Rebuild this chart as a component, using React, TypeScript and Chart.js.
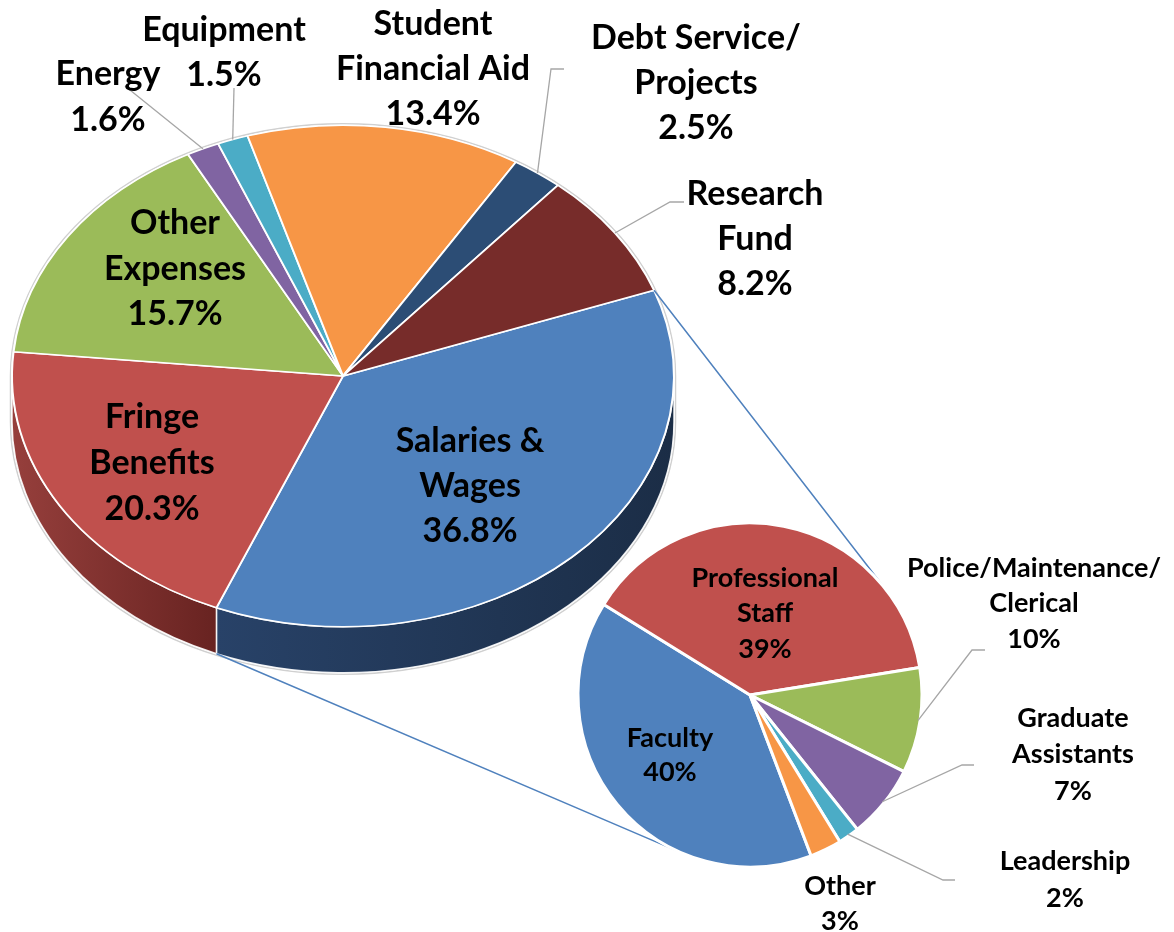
import React, { useEffect, useRef } from 'react';
import { Chart, registerables } from 'chart.js';

Chart.register(...registerables);

const W = 1174;
const H = 932;

// ---------- data ----------
const mainCategories = [
  'Salaries & Wages',
  'Fringe Benefits',
  'Other Expenses',
  'Energy',
  'Equipment',
  'Student Financial Aid',
  'Debt Service/Projects',
  'Research Fund',
];
const mainValues = [36.8, 20.3, 15.7, 1.6, 1.5, 13.4, 2.5, 8.2];
const mainLabelLines = [
  ['Salaries &', 'Wages'],
  ['Fringe', 'Benefits'],
  ['Other', 'Expenses'],
  ['Energy'],
  ['Equipment'],
  ['Student', 'Financial Aid'],
  ['Debt Service/', 'Projects'],
  ['Research', 'Fund'],
];
const mainColors = ['#4F81BD', '#C0504D', '#9BBB59', '#8064A2', '#4BACC6', '#F79646', '#2C4D75', '#772C2A'];
const mainSideColors = [
  ['#284268', '#1B2D46'],
  ['#963F3C', '#682321'],
  ['#6E8A3A', '#5A7230'],
  ['#5A4578', '#4A3963'],
  ['#2F8097', '#266B7E'],
  ['#C06A25', '#A0581E'],
  ['#1D3452', '#172A42'],
  ['#571E1D', '#461817'],
];

const subCategories = ['Faculty', 'Professional Staff', 'Police/Maintenance/Clerical', 'Graduate Assistants', 'Leadership', 'Other'];
const subValues = [40, 39, 10, 7, 2, 3];
const subLabelLines = [
  ['Faculty'],
  ['Professional', 'Staff'],
  ['Police/Maintenance/', 'Clerical'],
  ['Graduate', 'Assistants'],
  ['Leadership'],
  ['Other'],
];
const subColors = ['#4F81BD', '#C0504D', '#9BBB59', '#8064A2', '#4BACC6', '#F79646'];

// ---------- layout / style ----------
const TILT = 250 / 330;
const DEPTH = 46;
const FONT = 'Lato, "Open Sans", sans-serif';
const MAIN_FONT = 34;
const SUB_FONT = 27;
const LEADER_COLOR = '#A6A6A6';
const CONNECTOR_COLOR = '#4F81BD';

type LabelPos = { x: number; y: number; lh: number; leader?: number[][] };

const mainLabelLayout: LabelPos[] = [
  { x: 470, y: 440, lh: 45 },
  { x: 152, y: 416, lh: 46 },
  { x: 175, y: 222, lh: 45.5 },
  { x: 108, y: 73, lh: 46, leader: [[125, 86]] },
  { x: 224, y: 29, lh: 45, leader: [[234, 88]] },
  { x: 433, y: 23, lh: 45 },
  { x: 696, y: 37, lh: 45, leader: [[551, 69], [564, 69]] },
  { x: 755, y: 193, lh: 45, leader: [[670, 202], [684, 202]] },
];

const subLabelLayout: LabelPos[] = [
  { x: 670, y: 737, lh: 34 },
  { x: 765, y: 577, lh: 35.5 },
  { x: 1034, y: 567, lh: 35.5, leader: [[972, 650], [985, 650]] },
  { x: 1073, y: 717, lh: 36.5, leader: [[962, 765], [974, 765]] },
  { x: 1065, y: 860, lh: 37, leader: [[943, 880], [955, 880]] },
  { x: 840, y: 885, lh: 35 },
];

function drawLabel(ctx: CanvasRenderingContext2D, lines: string[], pos: LabelPos, size: number) {
  ctx.save();
  ctx.font = `bold ${size}px ${FONT}`;
  ctx.fillStyle = '#000000';
  ctx.textAlign = 'center';
  ctx.textBaseline = 'alphabetic';
  const cap = size * 0.72;
  lines.forEach((t, i) => {
    ctx.fillText(t, pos.x, pos.y + i * pos.lh + cap / 2);
  });
  ctx.restore();
}

function drawLeader(ctx: CanvasRenderingContext2D, start: number[], pts: number[][]) {
  ctx.save();
  ctx.strokeStyle = LEADER_COLOR;
  ctx.lineWidth = 1.3;
  ctx.beginPath();
  ctx.moveTo(start[0], start[1]);
  pts.forEach((p) => ctx.lineTo(p[0], p[1]));
  ctx.stroke();
  ctx.restore();
}

function tangentPoints(p: number[], c: number[], r: number) {
  const dx = c[0] - p[0];
  const dy = c[1] - p[1];
  const d = Math.hypot(dx, dy);
  const phi = Math.atan2(dy, dx) + Math.PI;
  const a = Math.acos(Math.min(1, r / d));
  return [phi + a, phi - a].map((t) => [c[0] + r * Math.cos(t), c[1] + r * Math.sin(t)]);
}

export default function App() {
  const mainRef = useRef<HTMLCanvasElement | null>(null);
  const subRef = useRef<HTMLCanvasElement | null>(null);

  useEffect(() => {
    if (!mainRef.current || !subRef.current) return;

    const mainPlugin = {
      id: 'mainPie3d',
      beforeDatasetsDraw(chart: any) {
        const ctx: CanvasRenderingContext2D = chart.ctx;
        const arcs = chart.getDatasetMeta(0).data;
        if (!arcs.length) return;
        const cx = arcs[0].x;
        const cy = arcs[0].y;
        const rx = arcs[0].outerRadius;
        const ry = rx * TILT;
        ctx.save();
        // outer light outline
        ctx.beginPath();
        ctx.ellipse(cx, cy, rx + 1.5, ry + 1.5, 0, Math.PI, 2 * Math.PI, false);
        ctx.ellipse(cx, cy + DEPTH, rx + 1.5, ry + 1.5, 0, 0, Math.PI, false);
        ctx.closePath();
        ctx.strokeStyle = '#D0D0D0';
        ctx.lineWidth = 1.5;
        ctx.stroke();
        arcs.forEach((arc: any, i: number) => {
          for (let k = -1; k <= 1; k++) {
            const a = Math.max(arc.startAngle, 2 * Math.PI * k);
            const b = Math.min(arc.endAngle, 2 * Math.PI * k + Math.PI);
            if (b <= a) continue;
            const x1 = cx + rx * Math.cos(a);
            const x2 = cx + rx * Math.cos(b);
            const g = ctx.createLinearGradient(Math.min(x1, x2), 0, Math.max(x1, x2), 0);
            g.addColorStop(0, mainSideColors[i][0]);
            g.addColorStop(1, mainSideColors[i][1]);
            ctx.beginPath();
            ctx.ellipse(cx, cy, rx, ry, 0, a, b, false);
            ctx.ellipse(cx, cy + DEPTH, rx, ry, 0, b, a, true);
            ctx.closePath();
            ctx.fillStyle = g;
            ctx.fill();
            ctx.strokeStyle = 'rgba(255,255,255,0.9)';
            ctx.lineWidth = 1.5;
            ctx.stroke();
          }
        });
        ctx.restore();
        ctx.save();
        ctx.translate(cx, cy);
        ctx.scale(1, TILT);
        ctx.translate(-cx, -cy);
      },
      afterDatasetsDraw(chart: any) {
        const arcs = chart.getDatasetMeta(0).data;
        if (!arcs.length) return;
        chart.ctx.restore();
      },
      afterDraw(chart: any) {
        const ctx: CanvasRenderingContext2D = chart.ctx;
        const arcs = chart.getDatasetMeta(0).data;
        if (!arcs.length) return;
        const cx = arcs[0].x;
        const cy = arcs[0].y;
        const rx = arcs[0].outerRadius;
        const ry = rx * TILT;
        arcs.forEach((arc: any, i: number) => {
          const pos = mainLabelLayout[i];
          if (pos.leader) {
            const mid = (arc.startAngle + arc.endAngle) / 2;
            drawLeader(ctx, [cx + rx * Math.cos(mid), cy + ry * Math.sin(mid)], pos.leader);
          }
        });
        arcs.forEach((arc: any, i: number) => {
          const lines = [...mainLabelLines[i], `${mainValues[i].toFixed(1)}%`];
          drawLabel(ctx, lines, mainLabelLayout[i], MAIN_FONT);
        });
      },
    };

    const mainChart = new Chart(mainRef.current, {
      type: 'pie',
      data: {
        labels: mainCategories,
        datasets: [
          {
            data: mainValues,
            backgroundColor: mainColors,
            borderColor: '#FFFFFF',
            borderWidth: 2,
            clip: false as any,
          },
        ],
      },
      options: {
        animation: false,
        responsive: false,
        events: [],
        rotation: 70,
        layout: { padding: { left: 11, top: 44, right: W - 343 - 332, bottom: H - 376 - 332 } },
        plugins: { legend: { display: false }, tooltip: { enabled: false } },
      } as any,
      plugins: [mainPlugin as any],
    });

    const subPlugin = {
      id: 'subPie',
      beforeDatasetsDraw(chart: any) {
        const ctx: CanvasRenderingContext2D = chart.ctx;
        const sArcs = chart.getDatasetMeta(0).data;
        const mArcs = mainChart.getDatasetMeta(0).data as any[];
        if (!sArcs.length || !mArcs.length) return;
        const m = mArcs[0];
        const rx = m.outerRadius;
        const ry = rx * TILT;
        const p1 = [m.x + rx * Math.cos(m.startAngle), m.y + ry * Math.sin(m.startAngle)];
        const p2 = [m.x + rx * Math.cos(m.endAngle), m.y + ry * Math.sin(m.endAngle) + DEPTH];
        const c = [sArcs[0].x, sArcs[0].y];
        const r = sArcs[0].outerRadius;
        const t1 = tangentPoints(p1, c, r).sort((a, b) => b[0] - a[0])[0];
        const t2 = tangentPoints(p2, c, r).sort((a, b) => b[1] - a[1])[0];
        ctx.save();
        ctx.strokeStyle = CONNECTOR_COLOR;
        ctx.lineWidth = 1.5;
        ctx.beginPath();
        ctx.moveTo(p1[0], p1[1]);
        ctx.lineTo(t1[0], t1[1]);
        ctx.moveTo(p2[0], p2[1]);
        ctx.lineTo(t2[0], t2[1]);
        ctx.stroke();
        ctx.restore();
      },
      afterDraw(chart: any) {
        const ctx: CanvasRenderingContext2D = chart.ctx;
        const arcs = chart.getDatasetMeta(0).data;
        if (!arcs.length) return;
        arcs.forEach((arc: any, i: number) => {
          const pos = subLabelLayout[i];
          if (pos.leader) {
            const mid = (arc.startAngle + arc.endAngle) / 2;
            const rr = arc.outerRadius - 2;
            drawLeader(ctx, [arc.x + rr * Math.cos(mid), arc.y + rr * Math.sin(mid)], pos.leader);
          }
        });
        arcs.forEach((arc: any, i: number) => {
          const lines = [...subLabelLines[i], `${subValues[i]}%`];
          drawLabel(ctx, lines, subLabelLayout[i], SUB_FONT);
        });
      },
    };

    const subChart = new Chart(subRef.current, {
      type: 'pie',
      data: {
        labels: subCategories,
        datasets: [
          {
            data: subValues,
            backgroundColor: subColors,
            borderColor: '#FFFFFF',
            borderWidth: 3,
          },
        ],
      },
      options: {
        animation: false,
        responsive: false,
        events: [],
        rotation: 159.2,
        layout: { padding: { left: 750 - 173.5, top: 695 - 173.5, right: W - 750 - 173.5, bottom: H - 695 - 173.5 } },
        plugins: { legend: { display: false }, tooltip: { enabled: false } },
      } as any,
      plugins: [subPlugin as any],
    });

    return () => {
      subChart.destroy();
      mainChart.destroy();
    };
  }, []);

  return (
    <div style={{ position: 'absolute', left: 0, top: 0, width: W, height: H, background: '#FFFFFF' }}>
      <canvas ref={mainRef} width={W} height={H} style={{ position: 'absolute', left: 0, top: 0, width: W, height: H }} />
      <canvas ref={subRef} width={W} height={H} style={{ position: 'absolute', left: 0, top: 0, width: W, height: H }} />
    </div>
  );
}
